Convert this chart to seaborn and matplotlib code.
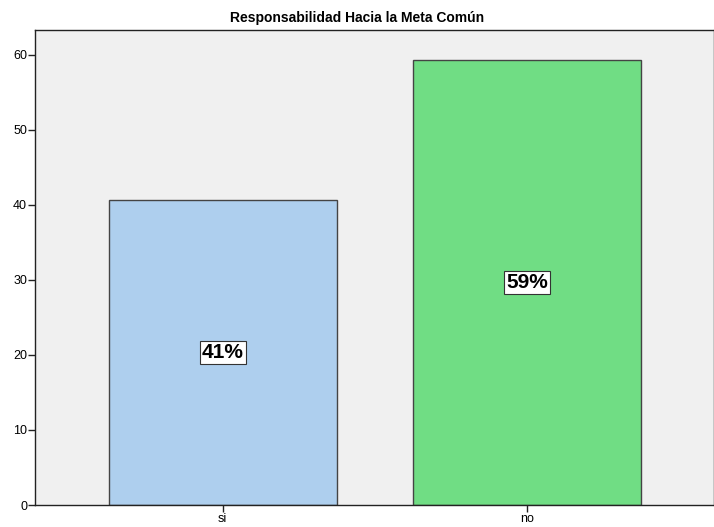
import pandas as pd
import matplotlib
matplotlib.use("Agg")
import matplotlib.pyplot as plt
import seaborn as sns

# Datos
categorias  = ["si", "no"]
porcentajes = [40.7, 59.3]
etiquetas   = ["41%", "59%"]
colores     = ["#AECFEE", "#70DD84"]

df = pd.DataFrame({"cat": categorias, "pct": porcentajes})

sns.set_style("white")
plt.rcParams["font.family"] = ["Liberation Sans", "DejaVu Sans"]
plt.rcParams["text.color"] = "black"
plt.rcParams["xtick.labelcolor"] = "black"
plt.rcParams["ytick.labelcolor"] = "black"

fig = plt.figure(figsize=(7.14, 5.27), dpi=100)
ax = fig.add_axes([0.0497, 0.0417, 0.9503, 0.9013])
ax.set_facecolor("#F0F0F0")

sns.barplot(data=df, x="cat", y="pct", hue="cat", palette=colores, legend=False,
            width=0.75, edgecolor="#444444", linewidth=1.0, saturation=1, ax=ax)

for i, (v, t) in enumerate(zip(porcentajes, etiquetas)):
    ax.text(i, v / 2, t, ha="center", va="center", fontsize=15, fontweight="bold",
            color="black",
            bbox=dict(boxstyle="square,pad=0.1", fc="white", ec="#333333", lw=0.8))

ax.set_xlim(-0.615, 1.615)
ax.set_ylim(0, 63.3)
ax.set_yticks(range(0, 61, 10))
ax.set_xlabel("")
ax.set_ylabel("")
ax.tick_params(axis="both", direction="out", length=5, width=1, color="#222222",
               labelsize=9, pad=1, left=True, bottom=True)
for s in ax.spines.values():
    s.set_color("#222222")
    s.set_linewidth(1)

fig.text(0.5, 0.966, "Responsabilidad Hacia la Meta Común", ha="center", va="center",
         fontsize=10, fontweight="bold", color="black")

fig.savefig("out.png", dpi=100)
